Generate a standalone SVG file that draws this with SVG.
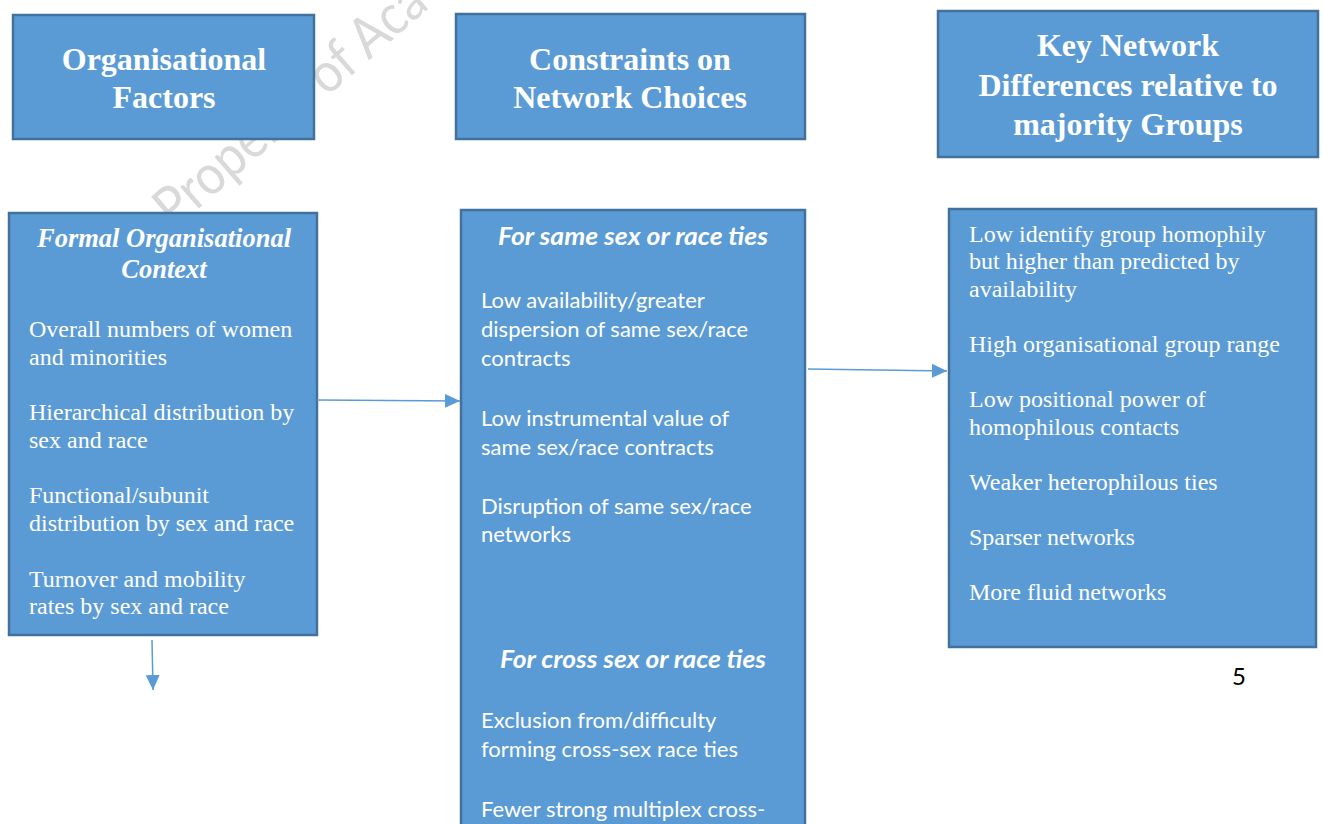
<svg xmlns="http://www.w3.org/2000/svg" width="1323" height="824" viewBox="0 0 1323 824">
  <defs>
    <style>
      .box { fill: #5b9bd5; stroke: #41719c; stroke-width: 2.5; }
      .head { font-family: "Liberation Serif", "Times New Roman", serif; font-weight: bold; font-size: 32px; fill: #ffffff; text-anchor: middle; }
      .sub { font-family: "Liberation Serif", "Times New Roman", serif; font-weight: bold; font-style: italic; font-size: 26.5px; fill: #ffffff; text-anchor: middle; }
      .serif { font-family: "Liberation Serif", "Times New Roman", serif; font-size: 24px; fill: #ffffff; }
      .sans { font-family: Lato, "Open Sans", sans-serif; font-size: 22px; fill: #ffffff; }
      .sansSub { font-family: Lato, "Open Sans", sans-serif; font-style: italic; font-weight: bold; font-size: 24px; fill: #ffffff; text-anchor: middle; }
      .link { stroke: #5b9bd5; stroke-width: 1.5; fill: none; }
      .mark { font-family: Lato, "Open Sans", sans-serif; font-size: 56px; fill: #d9d9d9; }
      .page { font-family: Lato, "Liberation Sans", sans-serif; font-size: 24px; fill: #000000; }
    </style>
    <marker id="arrow" markerUnits="userSpaceOnUse" markerWidth="16" markerHeight="16" refX="15" refY="7" orient="auto">
      <path d="M0,0 L15,7 L0,14 Z" fill="#5b9bd5"/>
    </marker>
  </defs>

  <rect width="1323" height="824" fill="#ffffff"/>

  <!-- faint background stamp -->
  <text class="mark" transform="translate(174,230) rotate(-41)" textLength="340" lengthAdjust="spacingAndGlyphs">Property of Aca</text>

  <!-- column headers -->
  <g id="hdr-org">
    <rect class="box" x="13" y="15" width="301" height="124"/>
    <text class="head" x="164" y="70">Organisational</text>
    <text class="head" x="164" y="108">Factors</text>
  </g>
  <g id="hdr-constraints">
    <rect class="box" x="456" y="14" width="349" height="125"/>
    <text class="head" x="630" y="70">Constraints on</text>
    <text class="head" x="630" y="108">Network Choices</text>
  </g>
  <g id="hdr-differences">
    <rect class="box" x="938" y="11" width="380" height="146"/>
    <text class="head" x="1128" y="56">Key Network</text>
    <text class="head" x="1128" y="96">Differences relative to</text>
    <text class="head" x="1128" y="135">majority Groups</text>
  </g>

  <!-- formal organisational context -->
  <g id="node-context">
    <rect class="box" x="9" y="213" width="308" height="422"/>
    <text class="sub" x="164" y="247">Formal Organisational</text>
    <text class="sub" x="164" y="278">Context</text>
    <text class="serif" x="29" y="337">Overall numbers of women</text>
    <text class="serif" x="29" y="365">and minorities</text>
    <text class="serif" x="29" y="420">Hierarchical distribution by</text>
    <text class="serif" x="29" y="448">sex and race</text>
    <text class="serif" x="29" y="503">Functional/subunit</text>
    <text class="serif" x="29" y="531">distribution by sex and race</text>
    <text class="serif" x="29" y="587">Turnover and mobility</text>
    <text class="serif" x="29" y="614">rates by sex and race</text>
  </g>

  <!-- constraints list (runs past the page bottom) -->
  <g id="node-constraints">
    <rect class="box" x="461" y="210" width="344" height="640"/>
    <text class="sansSub" x="633" y="245" textLength="270" lengthAdjust="spacingAndGlyphs">For same sex or race ties</text>
    <text class="sans" x="481" y="308">Low availability/greater</text>
    <text class="sans" x="481" y="337">dispersion of same sex/race</text>
    <text class="sans" x="481" y="366">contracts</text>
    <text class="sans" x="481" y="426">Low instrumental value of</text>
    <text class="sans" x="481" y="455">same sex/race contracts</text>
    <text class="sans" x="481" y="514">Disruption of same sex/race</text>
    <text class="sans" x="481" y="542">networks</text>
    <text class="sansSub" x="633" y="668" textLength="266" lengthAdjust="spacingAndGlyphs">For cross sex or race ties</text>
    <text class="sans" x="481" y="728">Exclusion from/difficulty</text>
    <text class="sans" x="481" y="757">forming cross-sex race ties</text>
    <text class="sans" x="481" y="817">Fewer strong multiplex cross-</text>
  </g>

  <!-- key differences list -->
  <g id="node-differences">
    <rect class="box" x="949" y="209" width="367" height="438"/>
    <text class="serif" x="969" y="242">Low identify group homophily</text>
    <text class="serif" x="969" y="269">but higher than predicted by</text>
    <text class="serif" x="969" y="297">availability</text>
    <text class="serif" x="969" y="352">High organisational group range</text>
    <text class="serif" x="969" y="407">Low positional power of</text>
    <text class="serif" x="969" y="435">homophilous contacts</text>
    <text class="serif" x="969" y="490">Weaker heterophilous ties</text>
    <text class="serif" x="969" y="545">Sparser networks</text>
    <text class="serif" x="969" y="600">More fluid networks</text>
  </g>

  <text class="page" x="1232" y="685">5</text>

  <!-- connectors -->
  <g id="connectors">
    <line class="link" x1="317" y1="400" x2="460" y2="401" marker-end="url(#arrow)"/>
    <line class="link" x1="808" y1="369" x2="947" y2="371" marker-end="url(#arrow)"/>
    <line class="link" x1="152" y1="640" x2="153" y2="690" marker-end="url(#arrow)"/>
  </g>
</svg>
